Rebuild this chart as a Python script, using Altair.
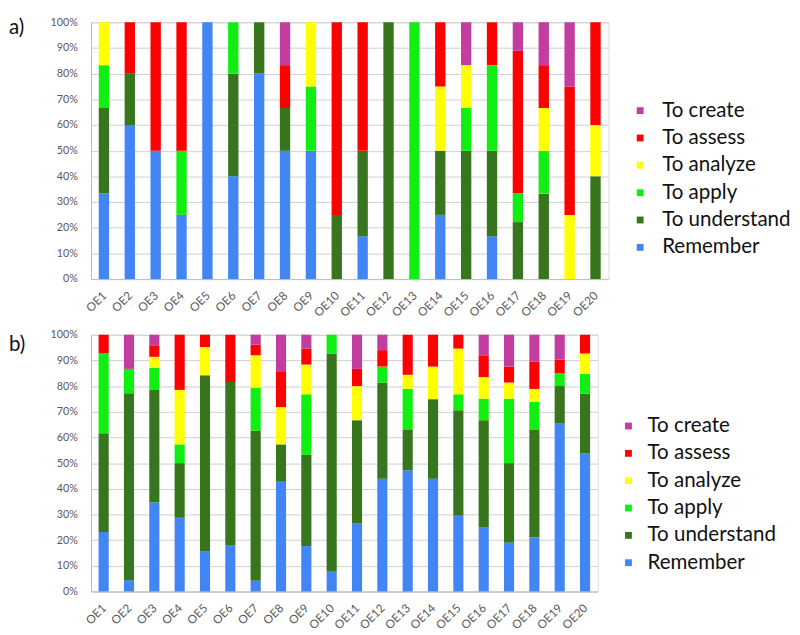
import altair as alt
import pandas as pd

categories = [f"OE{i}" for i in range(1, 21)]
levels = ["Remember", "To understand", "To apply", "To analyze", "To assess", "To create"]
legend_order = ["To create", "To assess", "To analyze", "To apply", "To understand", "Remember"]
legend_colors = ["#c33ca0", "#ff0000", "#ffff00", "#11ee11", "#38761d", "#4285f4"]

# Panel a) percentages per level
a_remember   = [33.3, 60, 50, 25, 100, 40, 80, 50, 50, 0, 16.7, 0, 0, 25, 0, 16.7, 0, 0, 0, 0]
a_understand = [33.3, 20, 0, 0, 0, 40, 20, 16.7, 0, 25, 33.3, 100, 0, 25, 50, 33.3, 22.2, 33.3, 0, 40]
a_apply      = [16.7, 0, 0, 25, 0, 20, 0, 0, 25, 0, 0, 0, 100, 0, 16.7, 33.3, 11.1, 16.7, 0, 0]
a_analyze    = [16.7, 0, 0, 0, 0, 0, 0, 0, 25, 0, 0, 0, 0, 25, 16.7, 0, 0, 16.7, 25, 20]
a_assess     = [0, 20, 50, 50, 0, 0, 0, 16.7, 0, 75, 50, 0, 0, 25, 0, 16.7, 55.6, 16.7, 50, 40]
a_create     = [0, 0, 0, 0, 0, 0, 0, 16.7, 0, 0, 0, 0, 0, 0, 16.7, 0, 11.1, 16.7, 25, 0]

# Panel b) percentages per level
b_remember   = [23.2, 4.4, 34.8, 28.7, 15.6, 18.1, 4.2, 43.0, 17.7, 8.0, 26.6, 43.9, 47.2, 43.9, 29.5, 25.1, 19.0, 21.1, 65.4, 53.8]
b_understand = [38.4, 72.8, 43.7, 21.3, 68.6, 63.5, 58.5, 14.3, 35.5, 84.7, 40.1, 37.5, 15.7, 31.0, 41.1, 41.6, 31.0, 41.8, 14.6, 23.2]
b_apply      = [31.1, 9.5, 8.6, 7.3, 0, 0, 16.7, 0, 23.6, 7.3, 0, 6.2, 16.0, 0, 6.2, 8.4, 25.1, 10.9, 5.1, 7.8]
b_analyze    = [0, 0, 4.3, 21.2, 11.0, 0, 12.6, 14.5, 11.6, 0, 13.3, 0, 5.5, 12.7, 17.8, 8.4, 6.3, 5.1, 0, 7.9]
b_assess     = [7.3, 0, 4.5, 21.5, 4.8, 18.4, 4.2, 14.0, 6.2, 0, 6.7, 6.4, 15.6, 12.4, 5.4, 8.5, 6.2, 10.7, 5.2, 7.3]
b_create     = [0, 13.3, 4.1, 0, 0, 0, 3.8, 14.2, 5.4, 0, 13.3, 6.0, 0, 0, 0, 8.0, 12.4, 10.4, 9.7, 0]

FONT = "Lato"


def to_df(series):
    rows = []
    for i, lvl in enumerate(levels):
        for c, v in zip(categories, series[i]):
            rows.append({"oe": c, "level": lvl, "value": v, "order": i})
    return pd.DataFrame(rows)


def panel(series, width, label, label_y, legend_x, legend_y, legend_offset):
    df = to_df(series)
    bars = alt.Chart(df).mark_bar().encode(
        x=alt.X("oe:N", sort=categories,
                scale=alt.Scale(paddingInner=0.6, paddingOuter=0.3),
                axis=alt.Axis(title=None, labelAngle=-45, labelAlign="right",
                              labelBaseline="top", labelFont=FONT, labelFontSize=12,
                              labelColor="#595959", ticks=False, domainColor="#bdbdbd",
                              labelPadding=11, labelOffset=-3)),
        y=alt.Y("value:Q", stack="normalize", scale=alt.Scale(domain=[0, 1]),
                axis=alt.Axis(title=None, format=".0%",
                              values=[i / 10 for i in range(11)],
                              labelFont=FONT, labelFontSize=11, labelColor="#595959",
                              ticks=False, labelPadding=14, domainColor="#bdbdbd",
                              gridColor="#cfcfcf")),
        color=alt.Color("level:N",
                        scale=alt.Scale(domain=legend_order, range=legend_colors),
                        legend=alt.Legend(title=None, orient="none", legendX=legend_x,
                                          legendY=legend_y, symbolType="square",
                                          symbolSize=49, symbolStrokeWidth=0,
                                          labelFont=FONT, labelFontSize=21,
                                          labelColor="#111111", labelOffset=legend_offset,
                                          rowPadding=6, labelLimit=300)),
        order=alt.Order("order:Q", sort="ascending"),
    )
    txt = alt.Chart(pd.DataFrame({"t": [label]})).mark_text(
        font=FONT, fontSize=21, align="left", baseline="middle", color="#111111"
    ).encode(x=alt.value(-84), y=alt.value(label_y), text="t:N")
    return alt.layer(bars, txt).properties(width=width, height=263)


pa = panel([a_remember, a_understand, a_apply, a_analyze, a_assess, a_create],
           530, "a)", 6, 552, 80, 12)
pb = panel([b_remember, b_understand, b_apply, b_analyze, b_assess, b_create],
           519, "b)", 11, 540, 83, 9)

chart = alt.vconcat(pa, pb, spacing=57, bounds="flush").resolve_scale(
    color="independent"
).properties(
    padding={"left": 0, "top": 0, "right": 0, "bottom": 0}
).configure_view(strokeWidth=0).configure(background="white")

chart.save("out.html", embed_options={"renderer": "svg", "actions": False})
